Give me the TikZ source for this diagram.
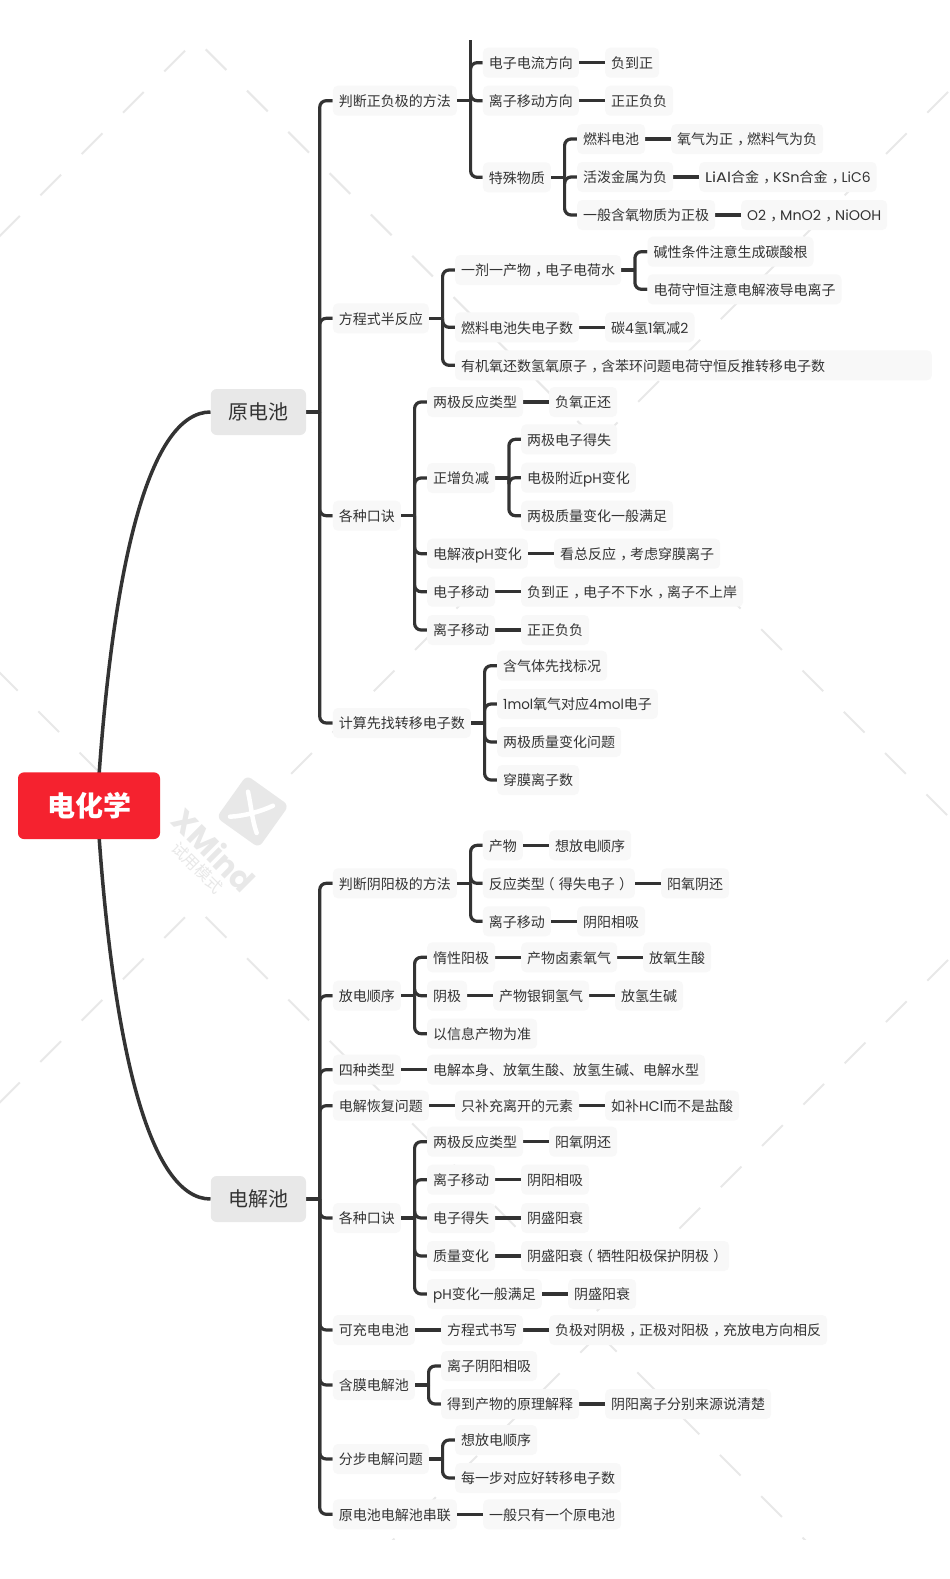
\documentclass[tikz,border=0pt]{standalone}
\usepackage{graphicx}
\usepackage{fontspec}
\usetikzlibrary{calc}
\setmainfont{Noto Sans CJK SC}
\newfontfamily\latf{Poppins}
\newcommand\ltn[1]{{\latf #1}}
\newcommand\ltw[2]{\resizebox{#1pt}{\height}{\latf #2}}
\newcommand\cma{\makebox[1em][l]{\hspace{.3em}，}}
\newcommand\lpa{\makebox[1em][l]{\hspace{-.3em}（}}
\newcommand\rpa{\makebox[1em][l]{\hspace{.3em}）}}
\definecolor{ink}{HTML}{333333}
\definecolor{topicbg}{HTML}{F8F8F8}
\definecolor{mainbg}{HTML}{E8E8E8}
\definecolor{rootbg}{HTML}{F5222F}
\definecolor{wmk}{HTML}{E8E8E8}
\pgfdeclarelayer{bg}
\pgfsetlayers{bg,main}
\tikzset{
  tp/.style={anchor=west,fill=topicbg,rounded corners=5pt,inner xsep=6pt,inner ysep=0pt,
    minimum height=30pt,text height=12.8pt,text depth=1.4pt,text=ink,font=\fontsize{14}{16}\selectfont},
  mn/.style={fill=mainbg,rounded corners=6pt,inner sep=0pt,minimum width=95.3pt,minimum height=46pt,
    text height=17.6pt,text depth=2pt,text=ink,font=\fontsize{20}{24}\selectfont},
  rt/.style={fill=rootbg,rounded corners=6pt,inner sep=0pt,minimum width=142pt,minimum height=66.7pt,
    text=white,font=\fontsize{28}{32}\selectfont\bfseries},
  conn/.style={draw=ink,line width=3.2pt},
  bigconn/.style={draw=ink,line width=3.5pt},
  wmline/.style={draw=wmk,line width=2pt}
}
\newcommand\brnch[2]{%
  \draw[conn] (#1.east) -- ++(13.5,0);
  \foreach \c in {#2}{\draw[conn,rounded corners=6.5pt] ([xshift=13.5pt]#1.east) |- (\c.west);}%
}
\newcommand\lnk[2]{\draw[conn] (#1.east) -- (#2.west);}
\newcommand\wmset[4]{\foreach \i in {0,...,#4}{\draw[wmline] ({#1+#3*41.3*\i},{#2+41.3*\i}) -- ++({#3*20.7},20.7);}}
\begin{document}
\begin{tikzpicture}[x=1pt,y=-1pt]
\useasboundingbox (0,0) rectangle (950,1579);
% root and main topics
\node[rt] (root) at (89,805.7) {电化学};
\node[mn] (yuan) at (258.4,412) {原电池};
\node[mn] (jie) at (258.4,1199) {电解池};
% ---- primary cell
\node[tp] (a1) at (332.7,100.7) {判断正负极的方法};
\node[tp] (a11) at (482.7,62.7) {电子电流方向};
\node[tp] (a111) at (605,62.7) {负到正};
\node[tp] (a12) at (482.7,100.7) {离子移动方向};
\node[tp] (a121) at (605,100.7) {正正负负};
\node[tp] (a13) at (482.7,177.3) {特殊物质};
\node[tp] (a131) at (577,139) {燃料电池};
\node[tp] (a1311) at (671,139) {氧气为正\cma 燃料气为负};
\node[tp] (a132) at (577,177) {活泼金属为负};
\node[tp] (a1321) at (699,177) {\ltw{26}{LiAl}合金\cma \ltw{26.5}{KSn}合金\cma \ltw{29}{LiC6}};
\node[tp] (a133) at (577,215) {一般含氧物质为正极};
\node[tp] (a1331) at (741,215) {\ltw{19}{O2}\cma \ltw{41}{MnO2}\cma \ltw{46}{NiOOH}};
\node[tp] (a2) at (332.7,318.3) {方程式半反应};
\node[tp] (a21) at (455,270) {一剂一产物\cma 电子电荷水};
\node[tp] (a211) at (647.3,251.7) {碱性条件注意生成碳酸根};
\node[tp] (a212) at (647.3,289.3) {电荷守恒注意电解液导电离子};
\node[tp] (a22) at (455,327.3) {燃料电池失电子数};
\node[tp] (a221) at (605,327.3) {碳\ltn{4}氢\ltn{1}氧减\ltn{2}};
\node[tp] (a23) at (455,365.3) {\makebox[464.7pt][l]{有机氧还数氢氧原子\cma 含苯环问题电荷守恒反推转移电子数}};
\node[tp] (a3) at (332.7,515.7) {各种口诀};
\node[tp] (a31) at (427,402) {两极反应类型};
\node[tp] (a311) at (549,402) {负氧正还};
\node[tp] (a32) at (427,478) {正增负减};
\node[tp] (a321) at (521,439.3) {两极电子得失};
\node[tp] (a322) at (521,477.7) {电极附近\ltw{18.7}{pH}变化};
\node[tp] (a323) at (521,515.7) {两极质量变化一般满足};
\node[tp] (a33) at (427,553.7) {电解液\ltw{18.7}{pH}变化};
\node[tp] (a331) at (554,553.7) {看总反应\cma 考虑穿膜离子};
\node[tp] (a34) at (427,591.7) {电子移动};
\node[tp] (a341) at (521,591.7) {负到正\cma 电子不下水\cma 离子不上岸};
\node[tp] (a35) at (427,630) {离子移动};
\node[tp] (a351) at (521,630) {正正负负};
\node[tp] (a4) at (332.7,723) {计算先找转移电子数};
\node[tp] (a41) at (497,665.7) {含气体先找标况};
\node[tp] (a42) at (497,704) {\ltw{30}{1mol}氧气对应\ltw{34.7}{4mol}电子};
\node[tp] (a43) at (497,742) {两极质量变化问题};
\node[tp] (a44) at (497,780) {穿膜离子数};
% ---- electrolytic cell
\node[tp] (b1) at (332.7,883.3) {判断阴阳极的方法};
\node[tp] (b11) at (482.7,845.3) {产物};
\node[tp] (b111) at (549,845.3) {想放电顺序};
\node[tp] (b12) at (482.7,883.3) {反应类型\lpa 得失电子\rpa};
\node[tp] (b121) at (661,883.3) {阳氧阴还};
\node[tp] (b13) at (482.7,921.3) {离子移动};
\node[tp] (b131) at (577,921.3) {阴阳相吸};
\node[tp] (b2) at (332.7,995.7) {放电顺序};
\node[tp] (b21) at (427,957.3) {惰性阳极};
\node[tp] (b211) at (521,957.3) {产物卤素氧气};
\node[tp] (b212) at (643,957.3) {放氧生酸};
\node[tp] (b22) at (427,995.7) {阴极};
\node[tp] (b221) at (493,995.7) {产物银铜氢气};
\node[tp] (b222) at (615,995.7) {放氢生碱};
\node[tp] (b23) at (427,1033.7) {以信息产物为准};
\node[tp] (b3) at (332.7,1069.7) {四种类型};
\node[tp] (b31) at (427,1069.7) {电解本身、放氧生酸、放氢生碱、电解水型};
\node[tp] (b4) at (332.7,1105.7) {电解恢复问题};
\node[tp] (b41) at (455,1105.7) {只补充离开的元素};
\node[tp] (b42) at (605,1105.7) {如补\ltw{24}{HCl}而不是盐酸};
\node[tp] (b5) at (332.7,1218) {各种口诀};
\node[tp] (b51) at (427,1141.7) {两极反应类型};
\node[tp] (b511) at (549,1141.7) {阳氧阴还};
\node[tp] (b52) at (427,1179.7) {离子移动};
\node[tp] (b521) at (521,1179.7) {阴阳相吸};
\node[tp] (b53) at (427,1218) {电子得失};
\node[tp] (b531) at (521,1218) {阴盛阳衰};
\node[tp] (b54) at (427,1256) {质量变化};
\node[tp] (b541) at (521,1256) {阴盛阳衰\lpa 牺牲阳极保护阴极\rpa};
\node[tp] (b55) at (427,1294) {\ltw{18.7}{pH}变化一般满足};
\node[tp] (b551) at (568,1294) {阴盛阳衰};
\node[tp] (b6) at (332.7,1330) {可充电电池};
\node[tp] (b61) at (441,1330) {方程式书写};
\node[tp] (b62) at (549,1330) {负极对阴极\cma 正极对阳极\cma 充放电方向相反};
\node[tp] (b7) at (332.7,1385) {含膜电解池};
\node[tp] (b71) at (441,1366) {离子阴阳相吸};
\node[tp] (b72) at (441,1404) {得到产物的原理解释};
\node[tp] (b721) at (605,1404) {阴阳离子分别来源说清楚};
\node[tp] (b8) at (332.7,1459) {分步电解问题};
\node[tp] (b81) at (455,1440) {想放电顺序};
\node[tp] (b82) at (455,1478) {每一步对应好转移电子数};
\node[tp] (b9) at (332.7,1514.3) {原电池电解池串联};
\node[tp] (b91) at (483,1514.3) {一般只有一个原电池};
\coordinate (topclip) at (0,40);
\begin{pgfonlayer}{bg}
  \fill[white] (0,0) rectangle (950,1579);
  % trial-mode watermark
  \begin{scope}
    \clip (0,40) rectangle (950,1539);
    \wmset{185}{50.7}{-1}{4}
    \wmset{205.7}{49.3}{1}{9}
    \wmset{948}{92}{-1}{8}
    \wmset{601}{464}{-1}{7}
    \wmset{596}{464}{1}{8}
    \wmset{-3}{670}{1}{2}
    \wmset{185}{917.3}{-1}{4}
    \wmset{205.7}{917}{1}{9}
    \wmset{948}{960}{-1}{8}
    \wmset{601}{1332}{-1}{5}
    \wmset{596}{1331}{1}{5}
  \end{scope}
  \fill[wmk,rounded corners=6pt,rotate around={-35.5:(252.7,811.5)}] (226.7,785.5) rectangle (278.7,837.5);
  \draw[white,line width=4.5pt,line cap=round] (230,816.7) .. controls (245,816) and (262,811) .. (273,805.7);
  \draw[white,line width=4.5pt,line cap=round] (248,791.7) .. controls (251,805) and (252,820) .. (256.7,833);
  \node[rotate=-45,text=wmk,font=\fontsize{31}{36}\selectfont\latf\bfseries,inner sep=0pt] (wmlogo) at (214,850) {XMind};
  \node[rotate=-45,text=wmk,font=\fontsize{16}{20}\selectfont,inner sep=0pt] (wmtrial) at (197.5,867.5) {试用模式};
  % main curves
  \draw[bigconn] ([xshift=8pt]root.center) .. controls (112,560) and (150,412) .. (yuan.west);
  \draw[bigconn] ([xshift=8pt]root.center) .. controls (112,1050) and (150,1199) .. (jie.west);
  \brnch{yuan}{a1,a2,a3,a4}
  \brnch{jie}{b1,b2,b3,b4,b5,b6,b7,b8,b9}
  \brnch{a1}{a11,a12,a13}
  \draw[conn] ([xshift=13.5pt]a1.east) -- ([xshift=13.5pt]a1.east |- topclip);
  \lnk{a11}{a111}
  \lnk{a12}{a121}
  \brnch{a13}{a131,a132,a133}
  \lnk{a131}{a1311}
  \lnk{a132}{a1321}
  \lnk{a133}{a1331}
  \brnch{a2}{a21,a22,a23}
  \brnch{a21}{a211,a212}
  \lnk{a22}{a221}
  \brnch{a3}{a31,a32,a33,a34,a35}
  \lnk{a31}{a311}
  \brnch{a32}{a321,a322,a323}
  \lnk{a33}{a331}
  \lnk{a34}{a341}
  \lnk{a35}{a351}
  \brnch{a4}{a41,a42,a43,a44}
  \brnch{b1}{b11,b12,b13}
  \lnk{b11}{b111}
  \lnk{b12}{b121}
  \lnk{b13}{b131}
  \brnch{b2}{b21,b22,b23}
  \lnk{b21}{b211}
  \lnk{b211}{b212}
  \lnk{b22}{b221}
  \lnk{b221}{b222}
  \lnk{b3}{b31}
  \lnk{b4}{b41}
  \lnk{b41}{b42}
  \brnch{b5}{b51,b52,b53,b54,b55}
  \lnk{b51}{b511}
  \lnk{b52}{b521}
  \lnk{b53}{b531}
  \lnk{b54}{b541}
  \lnk{b55}{b551}
  \lnk{b6}{b61}
  \lnk{b61}{b62}
  \brnch{b7}{b71,b72}
  \lnk{b72}{b721}
  \brnch{b8}{b81,b82}
  \lnk{b9}{b91}
\end{pgfonlayer}
\end{tikzpicture}
\end{document}
